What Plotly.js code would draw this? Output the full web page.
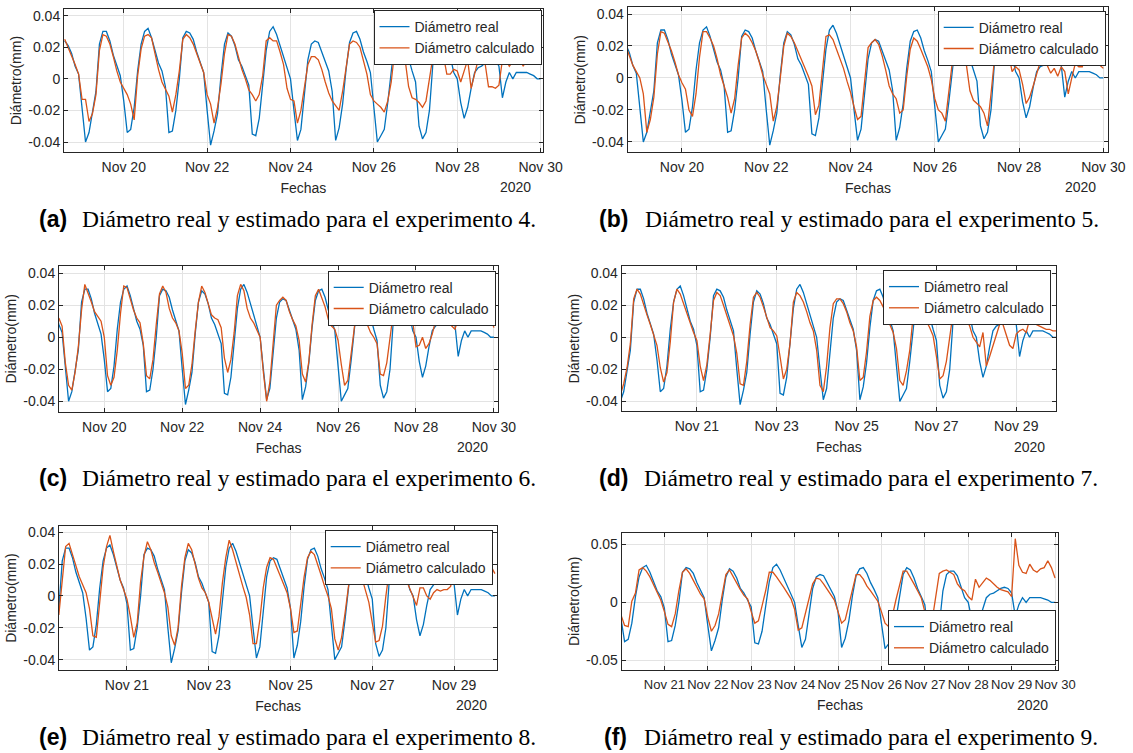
<!DOCTYPE html>
<html><head><meta charset="utf-8">
<script src="https://cdn.plot.ly/plotly-3.0.1.min.js"></script>
<style>html,body{margin:0;padding:0;background:#fff}</style>
</head><body><div id="chart" style="width:1133px;height:753px"></div>
<script>
// ---- DATA (hours since 2020-11-18 00:00, 2-hour sampling) ----
const realStartHour = 14;
const diametroReal = [
 0.024, 0.021, 0.016, 0.008, 0.003, -0.018, -0.040, -0.034, -0.020, -0.008, 0.022, 0.030,
 0.030, 0.024, 0.015, 0.009, 0.002, -0.014, -0.034, -0.032, -0.018, 0.005, 0.022, 0.030,
 0.032, 0.026, 0.018, 0.010, 0.005, -0.005, -0.034, -0.033, -0.020, 0.000, 0.026, 0.030,
 0.029, 0.025, 0.017, 0.011, 0.004, -0.020, -0.042, -0.033, -0.022, 0.002, 0.022, 0.029,
 0.027, 0.021, 0.012, 0.008, 0.002, -0.004, -0.035, -0.036, -0.025, -0.005, 0.018, 0.030,
 0.033, 0.028, 0.021, 0.013, 0.007, 0.000, -0.020, -0.039, -0.032, -0.012, 0.012, 0.022,
 0.024, 0.023, 0.017, 0.012, 0.005, -0.008, -0.039, -0.031, -0.016, 0.006, 0.023, 0.029,
 0.030, 0.025, 0.017, 0.011, 0.004, -0.018, -0.040, -0.036, -0.032, -0.015, 0.005, 0.024,
 0.030, 0.028, 0.021, 0.012, 0.005, -0.002, -0.030, -0.038, -0.034, -0.020, 0.010, 0.024,
 0.027, 0.027, 0.023, 0.014, 0.004, 0.000, -0.015, -0.025, -0.018, -0.006, 0.004, 0.007,
 0.008, 0.010, 0.012, 0.013, 0.012, 0.008, -0.012, -0.002, 0.004, 0.000, 0.004, 0.004,
 0.004, 0.004, 0.003, 0.002, 0.000, 0.000
];

const calcStartA = 14;
const calculadoA = [
 0.025, 0.020, 0.015, 0.009, 0.003, -0.013, -0.013, -0.027, -0.022, -0.010, 0.018, 0.028,
 0.027, 0.022, 0.014, 0.005, -0.002, -0.006, -0.010, -0.016, -0.026, 0.002, 0.019, 0.027,
 0.028, 0.026, 0.015, 0.006, -0.002, -0.007, -0.011, -0.021, -0.010, 0.005, 0.025, 0.028,
 0.026, 0.022, 0.016, 0.010, 0.004, -0.010, -0.016, -0.028, -0.018, -0.003, 0.016, 0.028,
 0.027, 0.022, 0.014, 0.006, 0.000, -0.007, -0.010, -0.014, -0.010, 0.002, 0.024, 0.026,
 0.024, 0.024, 0.017, 0.009, -0.006, -0.013, -0.014, -0.028, -0.020, -0.006, 0.009, 0.014,
 0.014, 0.012, 0.006, -0.002, -0.009, -0.014, -0.017, -0.020, -0.008, 0.007, 0.022, 0.024,
 0.023, 0.020, 0.012, 0.003, -0.010, -0.014, -0.016, -0.018, -0.021, -0.014, -0.002, 0.018,
 0.024, 0.022, 0.012, -0.005, -0.012, -0.013, -0.015, -0.018, -0.014, 0.000, 0.014, 0.022,
 0.022, 0.015, 0.003, 0.003, 0.006, 0.005, -0.002, 0.005, 0.012, -0.006, 0.004, 0.012,
 0.010, 0.010, -0.005, -0.005, -0.006, -0.004, 0.012, 0.012, 0.008, 0.011, 0.012, 0.012,
 0.008, 0.013, 0.020, 0.022, 0.020, 0.018
];

const calcStartB = 16;
const calculadoB = [
 0.020, 0.014, 0.008, 0.004, 0.000, -0.010, -0.034, -0.026, -0.012, 0.015, 0.029, 0.028,
 0.023, 0.017, 0.010, 0.002, -0.003, -0.007, -0.020, -0.024, -0.010, 0.013, 0.029, 0.029,
 0.025, 0.020, 0.012, 0.002, -0.005, -0.012, -0.022, -0.013, 0.008, 0.025, 0.028, 0.026,
 0.022, 0.017, 0.010, 0.002, -0.004, -0.010, -0.027, -0.018, 0.000, 0.020, 0.028, 0.026,
 0.022, 0.017, 0.011, 0.007, 0.001, -0.005, -0.023, -0.017, 0.003, 0.026, 0.027, 0.024,
 0.018, 0.012, 0.006, -0.002, -0.009, -0.018, -0.026, -0.024, -0.002, 0.019, 0.022, 0.024,
 0.021, 0.014, 0.005, -0.005, -0.010, -0.013, -0.022, -0.020, 0.001, 0.018, 0.025, 0.023,
 0.018, 0.013, 0.007, -0.001, -0.013, -0.020, -0.022, -0.027, -0.010, 0.010, 0.022, 0.026,
 0.020, 0.008, -0.008, -0.014, -0.016, -0.018, -0.022, -0.030, -0.010, 0.012, 0.024, 0.026,
 0.022, 0.016, 0.004, 0.007, 0.005, -0.004, -0.016, -0.012, -0.005, 0.002, 0.010, 0.015,
 0.008, 0.003, 0.006, 0.001, 0.007, 0.004, -0.010, 0.000, 0.009, 0.007, 0.007, 0.018,
 0.012, 0.010, 0.010, 0.008, 0.006
];

const calcStartC = 20;
const calculadoC = [
 0.012, 0.007, -0.016, -0.030, -0.033, -0.022, -0.006, 0.017, 0.033, 0.028, 0.022, 0.016,
 0.013, 0.010, 0.000, -0.024, -0.030, -0.025, -0.008, 0.015, 0.032, 0.031, 0.024, 0.017,
 0.012, 0.009, -0.004, -0.024, -0.026, -0.014, 0.008, 0.027, 0.032, 0.028, 0.018, 0.012,
 0.009, 0.004, -0.010, -0.032, -0.030, -0.017, 0.004, 0.022, 0.032, 0.028, 0.021, 0.014,
 0.012, 0.011, 0.006, -0.013, -0.022, -0.014, 0.003, 0.026, 0.033, 0.029, 0.018, 0.012,
 0.009, 0.005, 0.000, -0.022, -0.040, -0.028, -0.004, 0.020, 0.023, 0.025, 0.023, 0.016,
 0.011, 0.007, -0.002, -0.023, -0.028, -0.015, 0.008, 0.026, 0.030, 0.025, 0.019, 0.011,
 0.007, 0.005, -0.002, -0.017, -0.030, -0.027, -0.010, 0.008, 0.022, 0.026, 0.014, 0.008,
 0.003, 0.000, -0.004, -0.023, -0.024, -0.016, 0.000, 0.015, 0.024, 0.024, 0.016, 0.012,
 0.008, 0.010, -0.006, -0.005, 0.000, -0.007, -0.004, 0.002, 0.010, 0.015, 0.010, 0.008,
 0.009, 0.007, 0.005, 0.012, 0.010, 0.014, 0.012, 0.015, 0.012, 0.016, 0.015, 0.016,
 0.015, 0.012, 0.006
];

const calcStartD = 26;
const calculadoD = [
 -0.036, -0.029, -0.019, -0.004, 0.024, 0.030, 0.027, 0.020, 0.014, 0.008, 0.002, -0.005,
 -0.019, -0.028, -0.022, -0.003, 0.022, 0.030, 0.027, 0.021, 0.014, 0.008, 0.003, -0.002,
 -0.018, -0.027, -0.017, 0.002, 0.023, 0.028, 0.026, 0.020, 0.014, 0.007, 0.001, -0.010,
 -0.029, -0.030, -0.015, 0.008, 0.025, 0.028, 0.025, 0.019, 0.013, 0.006, 0.004, 0.001,
 -0.012, -0.026, -0.020, -0.004, 0.022, 0.028, 0.026, 0.022, 0.016, 0.009, 0.004, -0.008,
 -0.030, -0.034, -0.018, 0.006, 0.021, 0.024, 0.024, 0.021, 0.016, 0.009, 0.004, -0.006,
 -0.027, -0.025, -0.009, 0.013, 0.023, 0.025, 0.023, 0.019, 0.013, 0.008, 0.003, -0.007,
 -0.027, -0.030, -0.021, -0.008, 0.013, 0.022, 0.025, 0.017, 0.010, 0.006, 0.001, -0.012,
 -0.026, -0.024, -0.015, 0.000, 0.015, 0.024, 0.025, 0.018, 0.011, 0.007, 0.000, -0.003,
 -0.006, 0.003, -0.018, -0.012, -0.005, 0.001, 0.008, 0.008, 0.002, -0.005, -0.007, 0.002,
 0.004, 0.005, 0.003, 0.011, 0.010, 0.008, 0.007, 0.006, 0.005, 0.005, 0.004, 0.004
];

const calcStartE = 32;
const calculadoE = [
 -0.012, 0.012, 0.031, 0.033, 0.026, 0.018, 0.012, 0.007, 0.002, -0.008, -0.025, -0.026,
 -0.006, 0.018, 0.031, 0.038, 0.028, 0.018, 0.010, 0.004, -0.002, -0.013, -0.026, -0.017,
 0.009, 0.025, 0.034, 0.029, 0.021, 0.015, 0.009, 0.002, -0.007, -0.025, -0.031, -0.020,
 0.006, 0.024, 0.033, 0.029, 0.020, 0.011, 0.005, 0.002, -0.004, -0.015, -0.024, -0.013,
 0.008, 0.024, 0.035, 0.029, 0.021, 0.013, 0.006, -0.001, -0.012, -0.030, -0.030, -0.015,
 0.005, 0.018, 0.024, 0.023, 0.018, 0.012, 0.007, 0.002, -0.008, -0.023, -0.022, -0.006,
 0.012, 0.024, 0.028, 0.026, 0.020, 0.013, 0.006, 0.000, -0.008, -0.027, -0.034, -0.026,
 -0.011, 0.007, 0.022, 0.026, 0.020, 0.011, 0.003, -0.004, -0.017, -0.029, -0.028, -0.019,
 0.000, 0.016, 0.022, 0.020, 0.014, 0.013, 0.010, 0.005, 0.000, -0.006, 0.005, 0.005,
 0.000, -0.002, 0.002, 0.004, 0.003, 0.004, 0.004, 0.006, 0.016, 0.012, 0.011, 0.009,
 0.011, 0.013, 0.011, 0.011, 0.016, 0.019, 0.020, 0.018, 0.014
];

const calcStartF = 48;
const calculadoF = [
 -0.011, -0.020, -0.021, 0.001, 0.008, 0.028, 0.030, 0.027, 0.022, 0.015, 0.008, 0.002,
 -0.008, -0.019, -0.021, -0.010, 0.010, 0.026, 0.029, 0.025, 0.019, 0.013, 0.007, 0.003,
 -0.013, -0.025, -0.020, -0.010, 0.006, 0.024, 0.028, 0.022, 0.016, 0.011, 0.006, 0.003,
 -0.008, -0.018, -0.016, -0.004, 0.010, 0.026, 0.026, 0.022, 0.018, 0.013, 0.008, 0.003,
 -0.006, -0.024, -0.022, -0.010, 0.004, 0.016, 0.021, 0.020, 0.016, 0.011, 0.007, 0.002,
 -0.008, -0.018, -0.015, -0.003, 0.011, 0.024, 0.024, 0.020, 0.014, 0.010, 0.005, 0.001,
 -0.008, -0.018, -0.021, -0.012, 0.002, 0.014, 0.027, 0.027, 0.022, 0.016, 0.010, 0.004,
 -0.008, -0.016, -0.016, 0.006, 0.025, 0.027, 0.028, 0.026, 0.024, 0.016, 0.012, 0.010,
 0.005, 0.002, 0.020, 0.013, 0.017, 0.021, 0.019, 0.016, 0.013, 0.011, 0.010, 0.009,
 0.005, 0.055, 0.032, 0.026, 0.025, 0.033, 0.028, 0.026, 0.029, 0.030, 0.036, 0.030,
 0.021
];

const seriesNames = ['Diámetro real', 'Diámetro calculado'];
const experimentos = ['4', '5', '6', '7', '8', '9'];
const panelLetters = ['(a)', '(b)', '(c)', '(d)', '(e)', '(f)'];

const ticksEvenDates = ['2020-11-20', '2020-11-22', '2020-11-24', '2020-11-26', '2020-11-28', '2020-11-30'];
const ticksEvenLabels = ['Nov 20', 'Nov 22', 'Nov 24', 'Nov 26', 'Nov 28', 'Nov 30'];
const ticksOddDates = ['2020-11-21', '2020-11-23', '2020-11-25', '2020-11-27', '2020-11-29'];
const ticksOddLabels = ['Nov 21', 'Nov 23', 'Nov 25', 'Nov 27', 'Nov 29'];
const ticksDailyDates = ['2020-11-21', '2020-11-22', '2020-11-23', '2020-11-24', '2020-11-25', '2020-11-26', '2020-11-27', '2020-11-28', '2020-11-29', '2020-11-30'];
const ticksDailyLabels = ['Nov 21', 'Nov 22', 'Nov 23', 'Nov 24', 'Nov 25', 'Nov 26', 'Nov 27', 'Nov 28', 'Nov 29', 'Nov 30'];
const yTicks = [-0.04, -0.02, 0, 0.02, 0.04];
const yTickLabels = ['-0.04', '-0.02', '0', '0.02', '0.04'];
const yTicksF = [-0.05, 0, 0.05];
const yTickLabelsF = ['-0.05', '0', '0.05'];
const yearLabel = '2020';

// ---- helpers ----
const W = 1133, H = 753;
const T0 = Date.UTC(2020, 10, 18, 0, 0);
function hourToDate(h) {
  const d = new Date(T0 + h * 3600e3);
  return d.toISOString().slice(0, 19).replace('T', ' ');
}
function xsFrom(start, arr) { return arr.map((_, i) => hourToDate(start + i * 2)); }

const BLUE = '#0072BD', ORANGE = '#D95319', INK = '#262626';
const SANS = 'Liberation Sans, Arial, sans-serif';
const SERIF = 'Liberation Serif, Times New Roman, serif';

// panel layout (pixel boxes: left, right, top, bottom) and legend anchor
const panels = [
  {calc: calculadoA, start: calcStartA, range: [13.6, 289.2], tv: ticksEvenDates, tt: ticksEvenLabels, tf: 14, yv: yTicks, yt: yTickLabels, yr: [-0.0465, 0.0442],
   box: [64, 542.7, 9, 152.3], leg: {x: 541.5, y: 10, ya: 'top'}, year: [515, 187], cap: [37, 80, 219]},
  {calc: calculadoB, start: calcStartB, range: [17.1, 290.8], tv: ticksEvenDates, tt: ticksEvenLabels, tf: 14, yv: yTicks, yt: yTickLabels, yr: [-0.0465, 0.0442],
   box: [627.7, 1108.3, 7.3, 152.3], leg: {x: 1105.7, y: 10.7, ya: 'top'}, year: [1080, 187], cap: [597, 643, 219]},
  {calc: calculadoC, start: calcStartC, range: [20.1, 290.7], tv: ticksEvenDates, tt: ticksEvenLabels, tf: 14, yv: yTicks, yt: yTickLabels, yr: [-0.0465, 0.0445],
   box: [59, 498.3, 266, 411.7], leg: {x: 495.7, y: 270.7, ya: 'top'}, year: [472, 447], cap: [37, 80, 478]},
  {calc: calculadoD, start: calcStartD, range: [26.8, 287.9], tv: ticksOddDates, tt: ticksOddLabels, tf: 14, yv: yTicks, yt: yTickLabels, yr: [-0.0462, 0.0445],
   box: [621.7, 1056, 266, 411.3], leg: {x: 1051, y: 270, ya: 'top'}, year: [1029, 447], cap: [597, 642, 478]},
  {calc: calculadoE, start: calcStartE, range: [32.1, 289.4], tv: ticksOddDates, tt: ticksOddLabels, tf: 14, yv: yTicks, yt: yTickLabels, yr: [-0.0467, 0.0439],
   box: [59, 497.3, 526, 670.3], leg: {x: 492.7, y: 530, ya: 'top'}, year: [471, 705], cap: [37, 80, 737]},
  {calc: calculadoF, start: calcStartF, range: [48.4, 289.8], tv: ticksDailyDates, tt: ticksDailyLabels, tf: 13, yv: yTicksF, yt: yTickLabelsF, yr: [-0.0585, 0.0602],
   box: [621.7, 1058.3, 532.7, 670], leg: {x: 1056, y: 665, ya: 'bottom'}, year: [1032, 705], cap: [602, 642, 737]}
];

const data = [];
const layout = {
  width: W, height: H, margin: {l: 0, r: 0, t: 0, b: 0},
  paper_bgcolor: '#fff', plot_bgcolor: '#fff',
  font: {family: SANS, size: 14, color: INK},
  annotations: [], showlegend: true
};

const realX = xsFrom(realStartHour, diametroReal);

panels.forEach((p, i) => {
  const sfx = i === 0 ? '' : String(i + 1);
  const xa = 'x' + sfx, ya = 'y' + sfx, lg = 'legend' + sfx;
  data.push({x: realX, y: diametroReal, type: 'scatter', mode: 'lines', name: seriesNames[0],
    xaxis: xa, yaxis: ya, legend: lg, line: {color: BLUE, width: 1.3}});
  data.push({x: xsFrom(p.start, p.calc), y: p.calc, type: 'scatter', mode: 'lines', name: seriesNames[1],
    xaxis: xa, yaxis: ya, legend: lg, line: {color: ORANGE, width: 1.3}});

  const [l, r, t, b] = p.box;
  layout['xaxis' + sfx] = {
    type: 'date', domain: [l / W, r / W], anchor: ya,
    range: [hourToDate(p.range[0]), hourToDate(p.range[1])],
    tickmode: 'array', tickvals: p.tv, ticktext: p.tt, tickangle: 0,
    ticks: 'inside', ticklen: 4, tickcolor: INK, tickwidth: 1, ticklabelstandoff: 2,
    showline: true, linecolor: INK, linewidth: 1, mirror: 'ticks',
    showgrid: true, gridcolor: '#e3e3e3', gridwidth: 1, zeroline: false,
    tickfont: {family: SANS, size: p.tf, color: INK},
    title: {text: 'Fechas', font: {family: SANS, size: 14, color: INK}, standoff: 9},
    fixedrange: true
  };
  layout['yaxis' + sfx] = {
    domain: [1 - b / H, 1 - t / H], anchor: xa, range: p.yr,
    tickmode: 'array', tickvals: p.yv, ticktext: p.yt,
    ticks: 'inside', ticklen: 4, tickcolor: INK, tickwidth: 1,
    showline: true, linecolor: INK, linewidth: 1, mirror: 'ticks',
    showgrid: true, gridcolor: '#e3e3e3', gridwidth: 1, zeroline: false,
    tickfont: {family: SANS, size: 14, color: INK},
    title: {text: 'Diámetro(mm)', font: {family: SANS, size: 14, color: INK}, standoff: 3},
    fixedrange: true
  };
  layout[lg] = {
    x: p.leg.x / W, y: 1 - p.leg.y / H, xanchor: 'right', yanchor: p.leg.ya,
    xref: 'paper', yref: 'paper',
    bgcolor: '#fff', bordercolor: INK, borderwidth: 1,
    font: {family: SANS, size: 14, color: INK}, itemwidth: 30, tracegroupgap: 0
  };
  layout.annotations.push({
    xref: 'paper', yref: 'paper', x: p.year[0] / W, y: 1 - p.year[1] / H,
    xanchor: 'center', yanchor: 'middle', showarrow: false, text: yearLabel,
    font: {family: SANS, size: 14, color: INK}
  });
  layout.annotations.push({
    xref: 'paper', yref: 'paper', x: p.cap[0] / W, y: 1 - p.cap[2] / H,
    xanchor: 'left', yanchor: 'middle', showarrow: false, text: '<b>' + panelLetters[i] + '</b>',
    font: {family: SANS, size: 23, color: '#000'}
  });
  layout.annotations.push({
    xref: 'paper', yref: 'paper', x: p.cap[1] / W, y: 1 - p.cap[2] / H,
    xanchor: 'left', yanchor: 'middle', showarrow: false,
    text: 'Diámetro real y estimado para el experimento ' + experimentos[i] + '.',
    font: {family: SERIF, size: 23.5, color: '#000', weight: 'normal'}
  });
});

Plotly.newPlot('chart', data, layout, {staticPlot: true, displayModeBar: false});
</script></body></html>
